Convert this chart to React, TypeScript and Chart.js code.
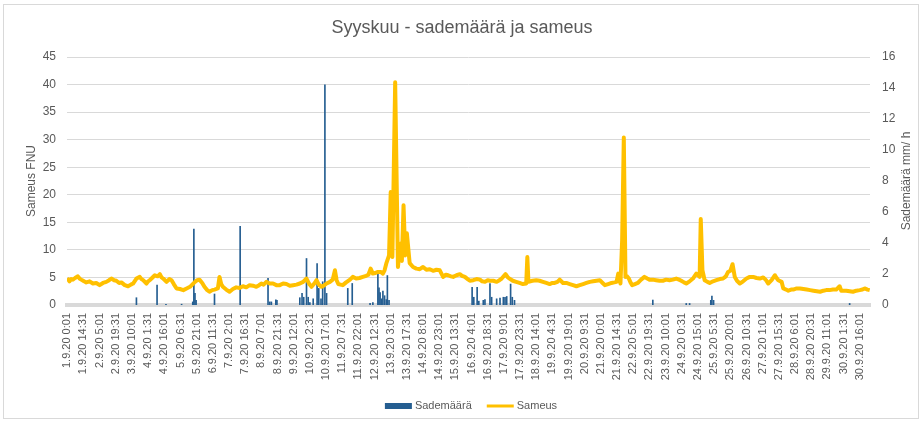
import React, { useEffect, useRef } from 'react';
import { Chart, registerables } from 'chart.js';

Chart.register(...registerables);

const TITLE = 'Syyskuu - sademäärä ja sameus';
const LEFT_TITLE = 'Sameus FNU';
const RIGHT_TITLE = 'Sademäärä mm/ h';
const SERIES_NAMES = ['Sademäärä', 'Sameus'];

// Half-hour samples: index 0 = 1.9.20 0:01
const POINT_COUNT = 1440;
const TICK_STEP = 29;

const tickLabels = [
  '1.9.20 0:01', '1.9.20 14:31', '2.9.20 5:01', '2.9.20 19:31', '3.9.20 10:01',
  '4.9.20 1:31', '4.9.20 16:01', '5.9.20 6:31', '5.9.20 21:01', '6.9.20 11:31',
  '7.9.20 2:01', '7.9.20 16:31', '8.9.20 7:01', '8.9.20 21:31', '9.9.20 12:01',
  '10.9.20 2:31', '10.9.20 17:01', '11.9.20 7:31', '11.9.20 22:01', '12.9.20 12:31',
  '13.9.20 3:01', '13.9.20 17:31', '14.9.20 8:01', '14.9.20 23:01', '15.9.20 13:31',
  '16.9.20 4:01', '16.9.20 18:31', '17.9.20 9:01', '17.9.20 23:31', '18.9.20 14:01',
  '19.9.20 4:31', '19.9.20 19:01', '20.9.20 9:31', '21.9.20 0:01', '21.9.20 14:31',
  '22.9.20 5:01', '22.9.20 19:31', '23.9.20 10:01', '24.9.20 0:31', '24.9.20 15:01',
  '25.9.20 5:31', '25.9.20 20:01', '26.9.20 10:31', '27.9.20 1:01', '27.9.20 15:31',
  '28.9.20 6:01', '28.9.20 20:31', '29.9.20 11:01', '30.9.20 1:31', '30.9.20 16:01',
];

// Sameus (FNU): [sample index, value]
const sameus: [number, number][] = [
  [0, 4.9], [4, 4.3], [7, 4.7], [10, 4.6], [14, 4.9], [19, 5.2], [22, 4.8], [25, 4.6], [30, 4.3], [34, 4.1],
  [40, 4.3], [46, 3.9], [52, 4.0], [58, 3.6], [64, 4.0], [70, 4.2], [75, 4.5], [79, 4.8], [84, 4.5], [88, 4.4],
  [93, 4.0], [97, 4.1], [103, 3.6], [109, 3.4], [114, 3.7], [118, 3.9], [124, 4.8], [130, 5.1], [133, 4.7], [136, 4.5],
  [142, 3.9], [145, 4.3], [148, 4.5], [152, 4.9], [157, 5.4], [162, 5.2], [166, 5.6], [169, 5.0], [172, 4.8], [178, 4.2],
  [183, 4.7], [187, 4.5], [191, 3.8], [196, 3.0], [202, 2.9], [208, 2.7], [214, 3.0], [220, 3.3], [225, 3.8], [229, 4.2],
  [233, 4.5], [237, 4.6], [242, 4.0], [246, 3.3], [250, 2.8], [255, 2.4], [260, 2.7], [264, 2.8], [270, 3.0], [273, 5.1],
  [276, 3.8], [279, 3.3], [285, 2.8], [291, 2.4], [297, 2.9], [303, 3.2], [309, 3.1], [315, 3.4], [321, 3.2], [327, 3.6],
  [333, 3.5], [339, 3.3], [344, 3.6], [348, 3.9], [352, 3.7], [357, 4.2], [363, 3.9], [369, 3.9], [375, 3.6], [381, 3.6],
  [387, 3.9], [393, 3.8], [399, 3.5], [405, 3.6], [411, 3.7], [417, 3.9], [423, 4.2], [429, 4.8], [434, 3.8], [438, 3.3],
  [443, 3.9], [447, 4.5], [451, 3.7], [456, 3.3], [461, 3.6], [465, 3.9], [471, 4.2], [476, 4.6], [480, 6.3], [483, 4.5],
  [486, 3.8], [490, 3.7], [494, 3.6], [500, 4.1], [507, 4.6], [512, 5.1], [518, 4.8], [524, 4.9], [530, 5.1], [536, 5.3],
  [540, 5.5], [544, 6.6], [548, 5.7], [552, 5.8], [557, 6.0], [562, 6.0], [566, 5.7], [569, 6.3], [572, 7.5], [577, 9.0],
  [580, 20.5], [583, 8.7], [588, 40.4], [593, 6.9], [597, 11.1], [600, 8.0], [603, 18.1], [606, 9.0], [609, 13.0], [614, 7.6],
  [620, 6.9], [626, 6.6], [632, 6.5], [638, 6.9], [644, 6.4], [650, 6.5], [656, 6.2], [662, 6.4], [668, 6.3], [674, 5.1],
  [679, 5.5], [683, 5.4], [688, 5.2], [692, 5.1], [698, 5.4], [704, 5.6], [708, 5.3], [713, 5.1], [718, 4.7], [722, 4.4],
  [728, 4.5], [734, 4.7], [740, 4.6], [744, 4.3], [749, 4.2], [754, 4.5], [758, 4.4], [764, 4.4], [770, 4.2], [775, 4.5],
  [779, 4.8], [786, 5.6], [790, 5.0], [793, 4.8], [799, 4.4], [805, 4.2], [811, 4.0], [817, 3.8], [823, 3.9], [825, 8.7],
  [827, 4.2], [834, 4.4], [841, 4.5], [847, 4.4], [853, 4.2], [859, 4.0], [865, 3.8], [870, 4.0], [874, 4.0], [879, 4.2],
  [883, 4.6], [889, 4.0], [895, 4.0], [901, 3.8], [907, 3.6], [913, 3.4], [919, 3.6], [925, 3.8], [931, 4.0], [937, 4.2],
  [943, 4.3], [949, 4.4], [955, 4.5], [960, 4.0], [964, 3.6], [970, 3.8], [976, 4.0], [981, 4.1], [985, 4.2], [988, 5.7],
  [992, 3.9], [995, 11.7], [998, 30.4], [1001, 5.1], [1004, 5.2], [1007, 4.8], [1010, 4.1], [1013, 3.6], [1018, 3.8], [1023, 4.0],
  [1029, 4.6], [1035, 5.1], [1040, 4.8], [1044, 4.6], [1050, 4.6], [1056, 4.5], [1062, 4.4], [1068, 4.4], [1074, 4.6], [1080, 4.5],
  [1086, 4.6], [1092, 4.8], [1097, 4.6], [1101, 4.4], [1106, 4.1], [1110, 3.9], [1116, 4.3], [1122, 4.8], [1128, 5.7], [1134, 5.1],
  [1136, 15.6], [1139, 6.3], [1143, 4.5], [1148, 4.2], [1152, 4.0], [1158, 4.3], [1164, 4.5], [1170, 4.7], [1176, 4.8], [1181, 5.2],
  [1185, 6.0], [1189, 6.2], [1193, 7.4], [1197, 5.1], [1201, 4.4], [1206, 3.9], [1212, 4.3], [1218, 4.8], [1224, 5.1], [1230, 5.1],
  [1236, 4.9], [1242, 4.8], [1248, 5.0], [1253, 4.5], [1257, 3.9], [1263, 4.5], [1269, 5.4], [1272, 4.9], [1275, 4.5], [1281, 4.2],
  [1284, 3.0], [1289, 2.8], [1293, 2.6], [1298, 2.8], [1302, 2.8], [1308, 3.0], [1314, 3.0], [1320, 2.9], [1326, 2.8], [1332, 2.7],
  [1338, 2.6], [1344, 2.5], [1350, 2.4], [1356, 2.6], [1361, 2.7], [1367, 2.7], [1373, 2.8], [1379, 2.8], [1385, 3.4], [1388, 2.6],
  [1393, 2.6], [1397, 2.6], [1403, 2.5], [1409, 2.4], [1415, 2.6], [1421, 2.7], [1426, 2.8], [1430, 3.0], [1435, 2.8], [1439, 2.7],
];

// Sademäärä (mm/h): [sample index, value]
const sademaara: [number, number][] = [
  [124, 0.47], [161, 1.28], [177, 0.05], [205, 0.05], [225, 0.2], [227, 4.9], [229, 0.75], [231, 0.3],
  [264, 0.71], [310, 5.08], [360, 1.72], [363, 0.2], [366, 0.2], [374, 0.33], [376, 0.3], [417, 0.47],
  [421, 0.75], [424, 0.5], [429, 3.0], [432, 0.5], [435, 0.15], [441, 0.4], [448, 2.68], [451, 1.07],
  [455, 0.4], [458, 1.5], [462, 14.2], [465, 0.75], [503, 1.07], [511, 1.39], [543, 0.1], [548, 0.15],
  [557, 2.2], [559, 1.1], [561, 0.8], [564, 0.4], [566, 0.9], [569, 0.6], [572, 0.35], [574, 1.9],
  [577, 0.3], [726, 1.14], [729, 0.5], [735, 1.14], [738, 0.25], [746, 0.3], [749, 0.35], [758, 1.39],
  [761, 0.5], [770, 0.4], [776, 0.45], [782, 0.5], [785, 0.5], [788, 0.55], [795, 1.35], [798, 0.5],
  [802, 0.3], [1050, 0.32], [1110, 0.1], [1116, 0.1], [1154, 0.3], [1156, 0.58], [1159, 0.3], [1403, 0.1],
];

const BLUE = '#255E91';
const YELLOW = '#FFC000';
const TEXT = '#595959';
const GRID = '#D9D9D9';
const FONT = '"Liberation Sans", Arial, sans-serif';

const rightTitlePlugin = {
  id: 'rightTitle',
  afterDraw(chart: any) {
    const { ctx, chartArea } = chart;
    const scale = chart.scales.y1;
    ctx.save();
    ctx.translate(scale.right - 17, (chartArea.top + chartArea.bottom) / 2);
    ctx.rotate(-Math.PI / 2);
    ctx.font = `12px ${FONT}`;
    ctx.fillStyle = TEXT;
    ctx.textAlign = 'center';
    ctx.textBaseline = 'middle';
    ctx.fillText(RIGHT_TITLE, 0, 0);
    ctx.restore();
  },
};

const legendPlugin = {
  id: 'excelLegend',
  afterDraw(chart: any) {
    const { ctx, chartArea, height } = chart;
    ctx.save();
    ctx.font = `11px ${FONT}`;
    const sym = 27;
    const gap = 3;
    const itemGap = 15;
    const w0 = ctx.measureText(SERIES_NAMES[0]).width;
    const w1 = ctx.measureText(SERIES_NAMES[1]).width;
    const total = sym + gap + w0 + itemGap + sym + gap + w1;
    let x = (chartArea.left + chartArea.right) / 2 + 2.5 - total / 2;
    const y = height - 18;
    ctx.fillStyle = BLUE;
    ctx.fillRect(x, y - 3, sym, 6);
    x += sym + gap;
    ctx.fillStyle = TEXT;
    ctx.textAlign = 'left';
    ctx.textBaseline = 'middle';
    ctx.fillText(SERIES_NAMES[0], x, y);
    x += w0 + itemGap;
    ctx.strokeStyle = YELLOW;
    ctx.lineWidth = 3;
    ctx.beginPath();
    ctx.moveTo(x, y);
    ctx.lineTo(x + sym, y);
    ctx.stroke();
    x += sym + gap;
    ctx.fillText(SERIES_NAMES[1], x, y);
    ctx.restore();
  },
};

export default function App() {
  const canvasRef = useRef<HTMLCanvasElement | null>(null);

  useEffect(() => {
    if (!canvasRef.current) return;
    const chart = new Chart(canvasRef.current, {
      type: 'bar',
      data: {
        datasets: [
          {
            type: 'bar',
            label: SERIES_NAMES[0],
            data: sademaara.map(([x, y]) => ({ x, y })),
            backgroundColor: BLUE,
            borderWidth: 0,
            barThickness: 1,
            yAxisID: 'y1',
            order: 1,
          },
          {
            type: 'line',
            label: SERIES_NAMES[1],
            data: sameus.map(([x, y]) => ({ x, y })),
            borderColor: YELLOW,
            backgroundColor: YELLOW,
            borderWidth: 4,
            pointRadius: 0,
            tension: 0,
            borderJoinStyle: 'round',
            yAxisID: 'y',
            order: 0,
          },
        ] as any,
      },
      options: {
        animation: false,
        responsive: false,
        devicePixelRatio: 1,
        layout: { padding: { left: 0, right: 0, top: 0, bottom: 33 } },
        plugins: {
          title: {
            display: true,
            text: TITLE,
            color: TEXT,
            font: { family: FONT, size: 18, weight: 'normal' },
            padding: { top: 17, bottom: 18.4 },
          },
          legend: { display: false },
          tooltip: { enabled: false },
        },
        scales: {
          x: {
            type: 'linear',
            min: -0.5,
            max: POINT_COUNT - 0.5,
            offset: false,
            grid: { display: false, offset: false, drawTicks: false },
            border: { display: true, color: GRID, width: 4 },
            afterBuildTicks: (scale: any) => {
              scale.ticks = tickLabels.map((_, k) => ({ value: k * TICK_STEP }));
            },
            afterFit: (scale: any) => {
              scale.height = 86;
            },
            ticks: {
              autoSkip: false,
              maxRotation: 90,
              minRotation: 90,
              padding: 8,
              color: TEXT,
              font: { family: FONT, size: 11 },
              callback: (_v: any, index: number) => tickLabels[index],
            },
          },
          y: {
            type: 'linear',
            position: 'left',
            min: 0,
            max: 45,
            ticks: { stepSize: 5, padding: 11, color: TEXT, font: { family: FONT, size: 12 } },
            grid: { color: GRID, lineWidth: 1, drawTicks: false },
            border: { display: false },
            title: {
              display: true,
              text: LEFT_TITLE,
              color: TEXT,
              font: { family: FONT, size: 12 },
              padding: { top: 24, bottom: 0 },
            },
            afterFit: (scale: any) => {
              scale.width = 67;
            },
          },
          y1: {
            type: 'linear',
            position: 'right',
            min: 0,
            max: 16,
            ticks: { stepSize: 2, padding: 12, color: TEXT, font: { family: FONT, size: 12 } },
            grid: { display: false, drawTicks: false },
            border: { display: false },
            afterFit: (scale: any) => {
              scale.width = 54;
            },
          },
        },
      } as any,
      plugins: [rightTitlePlugin, legendPlugin],
    });
    return () => chart.destroy();
  }, []);

  return (
    <div style={{ position: 'fixed', left: 0, top: 0, width: 924, height: 424, background: '#fff' }}>
      <div
        style={{
          position: 'absolute',
          left: 3,
          top: 4,
          width: 916,
          height: 415,
          border: `1px solid ${GRID}`,
          boxSizing: 'border-box',
        }}
      />
      <canvas ref={canvasRef} width={924} height={424} style={{ position: 'absolute', left: 0, top: 0 }} />
    </div>
  );
}
